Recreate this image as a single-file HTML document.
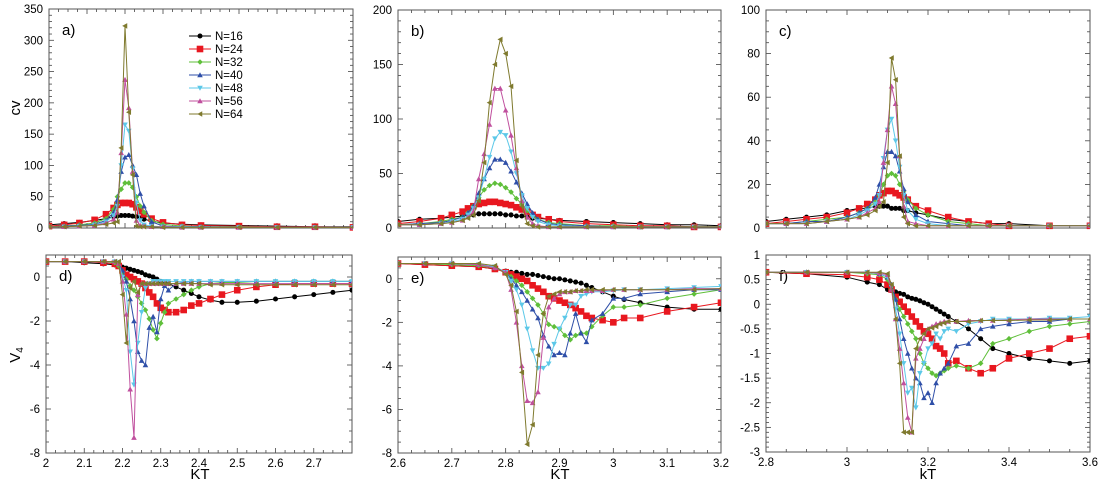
<!DOCTYPE html>
<html><head><meta charset="utf-8"><style>
html,body{margin:0;padding:0;background:#fff;}
svg{display:block;font-family:"Liberation Sans",Arial,sans-serif;}
</style></head><body>
<svg id="fig" width="1100" height="484" viewBox="0 0 1100 484" xmlns="http://www.w3.org/2000/svg"></svg>
<script>
// ---- data ----
const seriesNames = ["N=16","N=24","N=32","N=40","N=48","N=56","N=64"];
const colors = ["#000000","#e8171f","#5fbf3a","#2f4fa8","#5cc8e8","#c0509e","#7f7a2e"];
const markers = ["circle","square","diamond","tri-up","tri-down","tri-up","tri-left"];

const xA = [2.0,2.04,2.08,2.12,2.15,2.17,2.18,2.19,2.2,2.21,2.22,2.23,2.24,2.25,2.27,2.3,2.35,2.4,2.5,2.6,2.7,2.8];
const cvA16 = [5,7,9,12,15,18,19,20,20,20,19,18,16,14,11,8,6,5,4,3,2,2];
const cvA24 = [3,5,8,13,22,32,37,40,40,40,38,33,27,22,15,9,5,4,3,2,2,1];
const cvA32 = [2,3,5,8,15,30,50,62,72,72,65,50,35,25,12,6,3,2,2,1,1,1];
const cvA40 = [2,3,4,6,12,25,45,90,113,117,100,85,55,35,10,3,2,2,1,1,1,1];
const cvA48 = [2,2,3,5,10,20,35,100,165,155,95,40,12,5,3,2,2,1,1,1,1,1];
const cvA56 = [2,2,3,4,8,14,25,120,237,192,90,12,4,3,2,2,1,1,1,1,1,1];
const cvA64 = [2,2,3,4,6,8,10,128,323,185,85,3,2,2,2,1,1,1,1,1,1,1];

const xD = [2.0,2.05,2.1,2.15,2.18,2.19,2.2,2.21,2.22,2.23,2.24,2.25,2.26,2.27,2.28,2.29,2.3,2.31,2.32,2.34,2.36,2.38,2.4,2.43,2.46,2.5,2.55,2.6,2.65,2.7,2.75,2.8];
const vD16 = [0.7,0.7,0.65,0.6,0.55,0.5,0.45,0.4,0.35,0.3,0.25,0.2,0.1,0.05,0,-0.1,-0.2,-0.25,-0.3,-0.45,-0.6,-0.75,-0.9,-1.05,-1.15,-1.15,-1.1,-1.0,-0.9,-0.8,-0.7,-0.6];
const vD24 = [0.7,0.7,0.7,0.65,0.6,0.5,0.3,0.1,0,-0.1,-0.2,-0.3,-0.5,-0.7,-0.9,-1.2,-1.4,-1.5,-1.6,-1.6,-1.5,-1.3,-1.2,-1.0,-0.8,-0.6,-0.45,-0.35,-0.3,-0.3,-0.3,-0.3];
const vD32 = [0.7,0.7,0.7,0.7,0.65,0.5,0.2,-0.1,-0.4,-0.6,-0.9,-1.2,-1.5,-1.9,-2.4,-2.8,-2.1,-1.6,-1.2,-1.0,-0.8,-0.6,-0.45,-0.3,-0.25,-0.25,-0.2,-0.2,-0.2,-0.2,-0.2,-0.2];
const vD40 = [0.7,0.7,0.7,0.7,0.7,0.6,0.3,-0.2,-1.0,-2.0,-3.4,-3.8,-4.0,-2.3,-1.8,-2.5,-1.0,-0.4,-0.6,-0.3,-0.25,-0.2,-0.2,-0.2,-0.2,-0.2,-0.2,-0.2,-0.2,-0.2,-0.2,-0.2];
const vD48 = [0.7,0.7,0.7,0.7,0.7,0.65,0,-0.6,-3.4,-4.9,-3.0,-1.6,-0.5,-0.3,-0.2,-0.2,-0.2,-0.2,-0.2,-0.2,-0.2,-0.2,-0.2,-0.2,-0.2,-0.2,-0.2,-0.2,-0.2,-0.2,-0.2,-0.2];
const vD56 = [0.7,0.7,0.7,0.7,0.7,0.6,-0.2,-1.7,-5.1,-7.3,-0.8,-0.3,-0.3,-0.3,-0.3,-0.3,-0.3,-0.3,-0.3,-0.3,-0.3,-0.3,-0.3,-0.3,-0.3,-0.3,-0.3,-0.3,-0.3,-0.3,-0.3,-0.3];
const vD64 = [0.7,0.7,0.7,0.7,0.7,0.7,-0.8,-3.0,-0.5,-0.2,-0.7,-0.3,-0.3,-0.3,-0.3,-0.3,-0.3,-0.3,-0.3,-0.3,-0.3,-0.3,-0.3,-0.35,-0.35,-0.35,-0.35,-0.35,-0.35,-0.35,-0.35,-0.35];

const xB = [2.6,2.64,2.68,2.7,2.72,2.73,2.74,2.75,2.76,2.77,2.78,2.79,2.8,2.81,2.82,2.83,2.84,2.85,2.86,2.88,2.9,2.95,3.0,3.05,3.1,3.15,3.2];
const cvB16 = [6,8,9,10,11,12,12,13,13,13,13,13,12,12,11,11,10,9,9,8,7,6,5,4,3,3,2];
const cvB24 = [4,6,9,12,15,18,20,22,23,24,24,23,22,21,19,17,15,12,10,8,6,4,3,2,2,1,1];
const cvB32 = [3,4,6,8,10,14,20,28,35,39,41,40,37,33,27,22,16,11,8,5,4,2,2,1,1,1,1];
const cvB40 = [3,4,5,7,10,14,20,32,45,55,63,63,60,52,42,32,22,14,8,4,3,2,1,1,1,1,1];
const cvB48 = [3,3,4,6,8,12,18,28,45,65,82,88,85,70,50,30,18,10,6,3,2,1,1,1,1,1,1];
const cvB56 = [3,3,4,5,7,10,15,45,68,95,128,128,108,85,55,25,10,4,2,1,1,1,1,1,1,1,1];
const cvB64 = [3,3,4,5,7,9,12,25,60,115,150,173,160,130,62,20,4,2,1,1,1,1,1,1,1,1,1];

const xE = [2.6,2.65,2.7,2.75,2.78,2.8,2.81,2.82,2.83,2.84,2.85,2.86,2.87,2.88,2.89,2.9,2.91,2.92,2.93,2.94,2.95,2.96,2.98,3.0,3.02,3.05,3.1,3.15,3.2];
const vE16 = [0.7,0.65,0.6,0.55,0.45,0.35,0.3,0.3,0.25,0.2,0.2,0.15,0.1,0.05,0,0,-0.05,-0.1,-0.15,-0.2,-0.3,-0.4,-0.6,-0.8,-0.95,-1.1,-1.3,-1.4,-1.4];
const vE24 = [0.7,0.65,0.6,0.55,0.45,0.3,0.2,0.1,0,-0.1,-0.3,-0.45,-0.6,-0.8,-0.9,-1.0,-1.1,-1.2,-1.35,-1.5,-1.7,-1.8,-1.9,-2.0,-1.8,-1.8,-1.5,-1.3,-1.1];
const vE32 = [0.7,0.7,0.65,0.6,0.5,0.3,0.1,-0.1,-0.3,-0.6,-0.9,-1.2,-1.6,-2.1,-2.2,-2.3,-2.6,-2.8,-2.6,-2.5,-2.5,-2.2,-1.7,-1.3,-1.3,-1.2,-0.9,-0.7,-0.5];
const vE40 = [0.7,0.7,0.7,0.65,0.55,0.3,0,-0.3,-0.6,-1.0,-1.4,-1.8,-2.6,-3.1,-3.5,-3.4,-3.5,-2.5,-1.6,-2.5,-2.9,-1.9,-1.6,-0.9,-0.9,-0.7,-0.6,-0.5,-0.5];
const vE48 = [0.7,0.7,0.7,0.65,0.55,0.3,-0.1,-0.5,-1.2,-2.3,-3.3,-4.1,-4.1,-3.9,-3.0,-2.3,-1.8,-1.2,-1.2,-0.8,-0.7,-0.6,-0.6,-0.55,-0.5,-0.5,-0.45,-0.4,-0.35];
const vE56 = [0.7,0.7,0.7,0.65,0.5,0.3,-0.5,-2.0,-4.0,-5.6,-5.7,-5.2,-2.7,-1.3,-0.9,-0.7,-0.6,-0.6,-0.55,-0.55,-0.55,-0.55,-0.55,-0.5,-0.5,-0.5,-0.5,-0.45,-0.45];
const vE64 = [0.7,0.7,0.7,0.7,0.6,0.2,-0.3,-1.5,-4.3,-7.6,-6.7,-3.5,-1.6,-0.8,-0.7,-0.6,-0.6,-0.6,-0.55,-0.55,-0.5,-0.5,-0.5,-0.5,-0.5,-0.5,-0.5,-0.5,-0.45];

const xC = [2.8,2.85,2.9,2.95,3.0,3.03,3.05,3.07,3.08,3.09,3.1,3.11,3.12,3.13,3.14,3.15,3.17,3.2,3.25,3.3,3.35,3.4,3.5,3.6];
const cvC16 = [3,4,5,6,8,9,9,10,10,10,10,9,9,9,8,8,7,6,4,3,2,2,1,1];
const cvC24 = [2,3,4,5,7,9,11,13,15,16,17,17,16,15,14,13,10,8,5,3,2,1,1,1];
const cvC32 = [2,2,3,4,5,7,9,12,15,20,24,25,24,20,17,13,9,6,3,2,1,1,1,1];
const cvC40 = [2,2,3,3,5,7,9,14,20,28,35,35,33,26,18,12,6,3,2,1,1,1,1,1];
const cvC48 = [2,2,2,3,4,6,8,11,15,32,45,50,40,28,15,8,4,2,1,1,1,1,1,1];
const cvC56 = [2,2,2,3,4,5,7,9,12,30,45,65,57,33,10,3,2,1,1,1,1,1,1,1];
const cvC64 = [2,2,2,3,4,5,6,8,10,12,30,78,68,33,5,2,1,1,1,1,1,1,1,1];

const xF = [2.8,2.9,3.0,3.05,3.08,3.1,3.11,3.12,3.13,3.14,3.15,3.16,3.17,3.18,3.19,3.2,3.21,3.22,3.23,3.24,3.25,3.27,3.3,3.33,3.36,3.4,3.45,3.5,3.55,3.6];
const vF16 = [0.65,0.62,0.55,0.45,0.4,0.3,0.28,0.25,0.22,0.2,0.15,0.12,0.1,0.07,0.03,0,-0.05,-0.1,-0.15,-0.2,-0.25,-0.35,-0.5,-0.7,-0.9,-1.0,-1.1,-1.15,-1.2,-1.15];
const vF24 = [0.65,0.62,0.6,0.55,0.5,0.4,0.3,0.15,0.05,-0.05,-0.15,-0.25,-0.35,-0.45,-0.55,-0.6,-0.7,-0.85,-0.9,-1.0,-1.2,-1.15,-1.3,-1.4,-1.3,-1.1,-1.0,-0.9,-0.7,-0.65];
const vF32 = [0.65,0.65,0.65,0.62,0.6,0.5,0.3,0.1,-0.1,-0.25,-0.4,-0.55,-0.7,-1.0,-1.2,-1.3,-1.4,-1.45,-1.4,-1.35,-1.3,-1.25,-1.3,-1.2,-0.8,-0.7,-0.55,-0.45,-0.4,-0.35];
const vF40 = [0.65,0.65,0.65,0.65,0.62,0.55,0.4,0.1,-0.3,-0.7,-1.0,-1.3,-1.5,-1.6,-1.9,-1.8,-2.0,-1.6,-1.4,-1.3,-1.2,-0.85,-0.8,-0.5,-0.45,-0.4,-0.35,-0.35,-0.3,-0.3];
const vF48 = [0.65,0.65,0.65,0.65,0.62,0.55,0.35,-0.1,-0.6,-1.2,-1.8,-1.7,-2.1,-1.4,-1.2,-0.9,-0.8,-0.6,-0.7,-0.55,-0.5,-0.55,-0.4,-0.35,-0.3,-0.3,-0.3,-0.28,-0.28,-0.25];
const vF56 = [0.65,0.65,0.65,0.65,0.63,0.6,0.3,-0.3,-0.9,-1.6,-2.3,-2.6,-1.1,-0.9,-0.7,-0.5,-0.45,-0.4,-0.38,-0.35,-0.35,-0.35,-0.33,-0.33,-0.33,-0.32,-0.3,-0.3,-0.3,-0.3];
const vF64 = [0.65,0.65,0.65,0.65,0.65,0.62,0.4,-0.3,-1.2,-2.6,-2.6,-2.6,-0.9,-0.7,-0.6,-0.5,-0.48,-0.45,-0.4,-0.38,-0.35,-0.35,-0.35,-0.33,-0.33,-0.33,-0.32,-0.32,-0.3,-0.3];

const xTicksA = [2,2.1,2.2,2.3,2.4,2.5,2.6,2.7];
const xTicksB = [2.6,2.7,2.8,2.9,3,3.1,3.2];
const xTicksC = [2.8,3,3.2,3.4,3.6];
const yTicksA = [0,50,100,150,200,250,300,350];
const yTicksB = [0,50,100,150,200];
const yTicksC = [0,20,40,60,80,100];
const yTicksV = [-8,-6,-4,-2,0];
const yTicksF = [-3,-2.5,-2,-1.5,-1,-0.5,0,0.5,1];

// ---- drawing ----
const NS = "http://www.w3.org/2000/svg";
const svg = document.getElementById("fig");
function mk(tag, attrs, parent){
  const e = document.createElementNS(NS, tag);
  for (const k in attrs) e.setAttribute(k, attrs[k]);
  (parent||svg).appendChild(e);
  return e;
}
function fmt(v){ return String(Math.round(v*100)/100); }

function panel(cfg){
  const g = mk("g", {});
  
  
  const L=cfg.L,R=cfg.R,T=cfg.T,B=cfg.B;
  const sx = v => L + (v-cfg.x0)/(cfg.x1-cfg.x0)*(R-L);
  const sy = v => B - (v-cfg.y0)/(cfg.y1-cfg.y0)*(B-T);
  // minor ticks
  const tk = mk("g", {stroke:"#444","stroke-width":0.8}, g);
  
  
  const nx = Math.round((cfg.x1-cfg.x0)/cfg.xMinor);
  for (let i=0;i<=nx;i++){
    const v = cfg.x0 + i*cfg.xMinor, px = sx(v);
    const major = Math.abs(v/cfg.xMajor - Math.round(v/cfg.xMajor))<1e-6;
    const len = major?5:3;
    mk("line",{x1:px,x2:px,y1:B,y2:B-len},tk);
    mk("line",{x1:px,x2:px,y1:T,y2:T+len},tk);
  }
  const ny = Math.round((cfg.y1-cfg.y0)/cfg.yMinor);
  for (let i=0;i<=ny;i++){
    const v = cfg.y0 + i*cfg.yMinor, py = sy(v);
    const major = Math.abs(v/cfg.yMajor - Math.round(v/cfg.yMajor))<1e-6;
    const len = major?5:3;
    mk("line",{x1:L,x2:L+len,y1:py,y2:py},tk);
    mk("line",{x1:R,x2:R-len,y1:py,y2:py},tk);
  }
  const frame = mk("rect",{x:L,y:T,width:R-L,height:B-T,fill:"none",stroke:"#555","stroke-width":1},g);
  
  
  // tick labels
  if (cfg.xTicks){
    cfg.xTicks.forEach(v=>{
      const t = mk("text",{x:sx(v),y:B+14,"text-anchor":"middle","font-size":11.5,fill:"#000"},g);
      t.textContent = fmt(v);
      
      
    });
  }
  cfg.yTicks.forEach(v=>{
    const t = mk("text",{x:L-6,y:sy(v)+4,"text-anchor":"end","font-size":11.5,fill:"#000"},g);
    t.textContent = fmt(v);
    
    
  });
  const pl = mk("text",{x:L+13,y:T+26,"font-size":15,fill:"#000"},g);
  pl.textContent = cfg.label;
  
  
  // series
  const clipId = "clip-"+cfg.name;
  const cp = mk("clipPath",{id:clipId},g);
  mk("rect",{x:L,y:T-4,width:R-L,height:B-T+8},cp);
  const sg = mk("g",{"clip-path":"url(#"+clipId+")"},g);
  cfg.ys.forEach((ys,si)=>{
    const sgrp = mk("g",{},sg);
    
    
    const pts = cfg.xs.map((x,i)=>sx(x).toFixed(1)+","+sy(ys[i]).toFixed(1)).join(" ");
    mk("polyline",{points:pts,fill:"none",stroke:colors[si],"stroke-width":1},sgrp);
    cfg.xs.forEach((x,i)=>drawMarker(sgrp, markers[si], sx(x), sy(ys[i]), colors[si], si===1?3.3:2.8));
  });
}
function drawMarker(parent, type, x, y, c, r){
  let m;
  if (type==="circle") m = mk("circle",{cx:x,cy:y,r:r*0.9,fill:c},parent);
  else if (type==="square") m = mk("rect",{x:x-r,y:y-r,width:2*r,height:2*r,fill:c},parent);
  else if (type==="diamond") m = mk("polygon",{points:`${x},${y-r} ${x+r},${y} ${x},${y+r} ${x-r},${y}`,fill:c},parent);
  else if (type==="tri-up") m = mk("polygon",{points:`${x},${y-r} ${x+r},${y+r*0.8} ${x-r},${y+r*0.8}`,fill:c},parent);
  else if (type==="tri-down") m = mk("polygon",{points:`${x},${y+r} ${x+r},${y-r*0.8} ${x-r},${y-r*0.8}`,fill:c},parent);
  else m = mk("polygon",{points:`${x-r},${y} ${x+r*0.8},${y-r} ${x+r*0.8},${y+r}`,fill:c},parent);
  
  
}

panel({name:"panel-a",label:"a)",L:49,R:353,T:9,B:228,x0:2,x1:2.8,y0:0,y1:350,xMajor:0.1,xMinor:0.025,yMajor:50,yMinor:10,yTicks:yTicksA,xTicks:null,xs:xA,ys:[cvA16,cvA24,cvA32,cvA40,cvA48,cvA56,cvA64]});
panel({name:"panel-d",label:"d)",L:46,R:352,T:255,B:453,x0:2,x1:2.8,y0:-8,y1:1,xMajor:0.1,xMinor:0.025,yMajor:2,yMinor:0.5,yTicks:yTicksV,xTicks:xTicksA,xs:xD,ys:[vD16,vD24,vD32,vD40,vD48,vD56,vD64]});
panel({name:"panel-b",label:"b)",L:398,R:721,T:10,B:228,x0:2.6,x1:3.2,y0:0,y1:200,xMajor:0.1,xMinor:0.025,yMajor:50,yMinor:10,yTicks:yTicksB,xTicks:null,xs:xB,ys:[cvB16,cvB24,cvB32,cvB40,cvB48,cvB56,cvB64]});
panel({name:"panel-e",label:"e)",L:398,R:721,T:257,B:453,x0:2.6,x1:3.2,y0:-8,y1:1,xMajor:0.1,xMinor:0.025,yMajor:2,yMinor:0.5,yTicks:yTicksV,xTicks:xTicksB,xs:xE,ys:[vE16,vE24,vE32,vE40,vE48,vE56,vE64]});
panel({name:"panel-c",label:"c)",L:766,R:1090,T:10,B:228,x0:2.8,x1:3.6,y0:0,y1:100,xMajor:0.2,xMinor:0.05,yMajor:20,yMinor:5,yTicks:yTicksC,xTicks:null,xs:xC,ys:[cvC16,cvC24,cvC32,cvC40,cvC48,cvC56,cvC64]});
panel({name:"panel-f",label:"f)",L:766,R:1090,T:255,B:452,x0:2.8,x1:3.6,y0:-3,y1:1,xMajor:0.2,xMinor:0.05,yMajor:0.5,yMinor:0.1,yTicks:yTicksF,xTicks:xTicksC,xs:xF,ys:[vF16,vF24,vF32,vF40,vF48,vF56,vF64]});

// legend
const lg = mk("g",{});


seriesNames.forEach((n,i)=>{
  const y = 36 + i*13;
  const e = mk("g",{},lg);
  
  
  mk("line",{x1:189,x2:211,y1:y,y2:y,stroke:colors[i],"stroke-width":1},e);
  drawMarker(e, markers[i], 200, y, colors[i], i===1?3.3:2.8);
  const t = mk("text",{x:215,y:y+4,"font-size":11.5,fill:"#000"},e);
  t.textContent = n;
});

// axis titles
function title(txt, x, y, rot, name){
  const t = mk("text",{x:x,y:y,"text-anchor":"middle","font-size":15,fill:"#000",transform:rot?`rotate(-90 ${x} ${y})`:""});
  t.textContent = txt;
  
  
  return t;
}
title("cv", 20, 108, true, "y-axis-title-cv");
const v4 = title("V", 20, 355, true, "y-axis-title-v4");
const sub = document.createElementNS(NS,"tspan");
sub.setAttribute("font-size","10");
sub.setAttribute("dy","3");
sub.textContent = "4";
v4.appendChild(sub);
title("KT", 200, 479, false, "x-axis-title-d");
title("KT", 560, 479, false, "x-axis-title-e");
title("kT", 928, 479, false, "x-axis-title-f");
</script>
</body></html>
